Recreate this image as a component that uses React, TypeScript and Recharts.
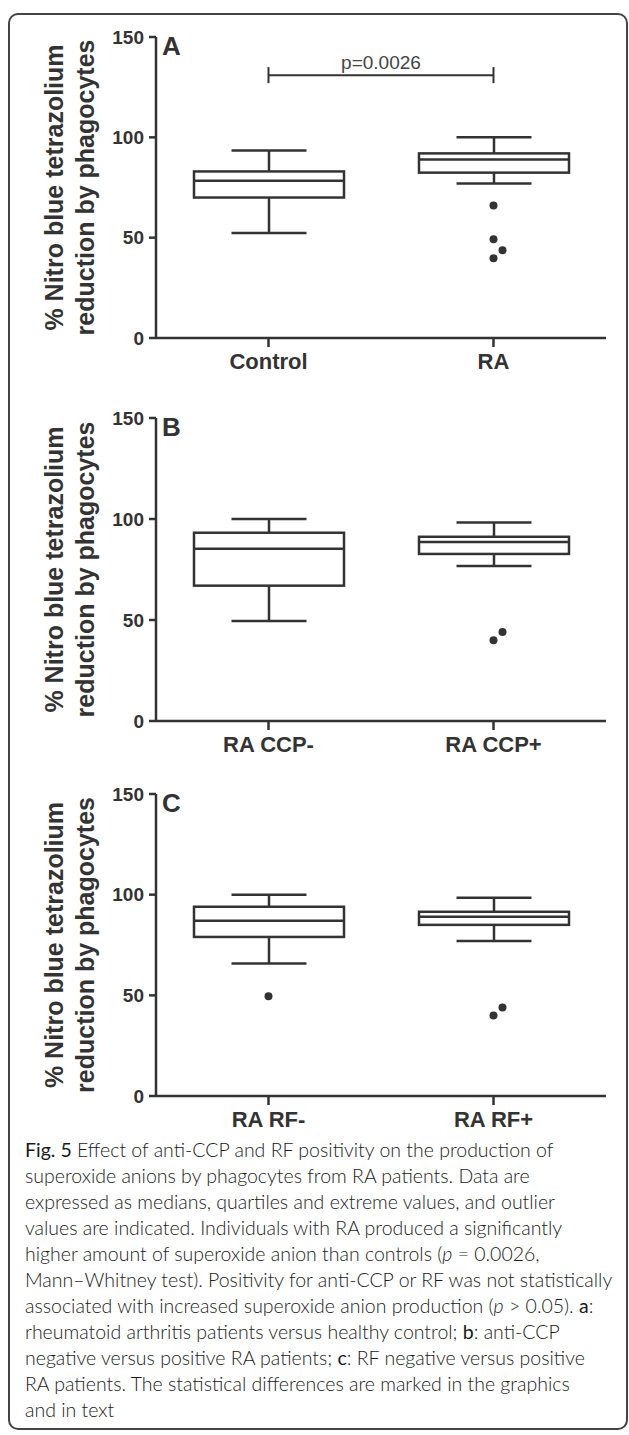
import React from "react";
import { Bar, ComposedChart, Label, ReferenceLine, Scatter, XAxis, YAxis } from "recharts";

// values (% NBT reduction)
const Y_TICKS = [0, 50, 100, 150];

const A_GROUPS = ["Control", "RA"];
const A_LOW = [52.3, 77];
const A_Q1 = [70, 82.4];
const A_MED = [78.4, 89];
const A_Q3 = [83, 92];
const A_HIGH = [93.5, 100];
const A_OUTLIERS = [[], [66, 49.2, 43.7, 39.7]];

const B_GROUPS = ["RA CCP-", "RA CCP+"];
const B_LOW = [49.5, 76.7];
const B_Q1 = [67, 82.7];
const B_MED = [85.3, 88.6];
const B_Q3 = [93.2, 91.2];
const B_HIGH = [100, 98.3];
const B_OUTLIERS = [[], [40, 44]];

const C_GROUPS = ["RA RF-", "RA RF+"];
const C_LOW = [65.8, 77];
const C_Q1 = [79, 85];
const C_MED = [87, 89];
const C_Q3 = [94, 91.5];
const C_HIGH = [100, 98.5];
const C_OUTLIERS = [[49.6], [40, 44]];

const P_VALUE = "p=0.0026";
const P_LEVEL = 131;

const INK = "#333";
const FONT = "'Liberation Sans', Arial, Helvetica, sans-serif";

// Prism-style: lowest outlier sits on the centre line, a close neighbour gets pushed sideways
function dodge(values: number[]) {
  const sorted = [...values].sort((a, b) => a - b);
  const placed: number[] = [];
  return sorted.map((v) => {
    const hit = placed.some((p) => Math.abs(p - v) < 6);
    if (!hit) placed.push(v);
    return { value: v, dodge: hit };
  });
}

function BoxShape(props: any) {
  const { x, y, width, height, payload } = props;
  const { lo, hi, q1, med, q3 } = payload;
  const pxLo = y + height;
  const px = (v: number) => pxLo + ((y - pxLo) * (v - lo)) / (hi - lo);
  const cx = x + width / 2;
  const cap = width / 4;
  const sw = 2.5;
  return (
    <g stroke={INK} strokeWidth={sw} fill="none">
      <line x1={cx} x2={cx} y1={px(hi)} y2={px(q3)} />
      <line x1={cx} x2={cx} y1={px(q1)} y2={px(lo)} />
      <line x1={cx - cap} x2={cx + cap} y1={px(hi)} y2={px(hi)} />
      <line x1={cx - cap} x2={cx + cap} y1={px(lo)} y2={px(lo)} />
      <rect x={x} y={px(q3)} width={width} height={px(q1) - px(q3)} fill="#fff" />
      <line x1={x} x2={x + width} y1={px(med)} y2={px(med)} />
    </g>
  );
}

function OutlierDot(props: any) {
  const { cx, cy, payload } = props;
  if (cx == null || cy == null) return null;
  return <circle cx={cx + (payload.dodge ? 9 : 0)} cy={cy} r={4} fill={INK} />;
}

function YLabel(props: any) {
  const vb = props.viewBox || {};
  const cy = vb.y + vb.height / 2;
  const common = {
    textAnchor: "middle" as const,
    fill: INK,
    fontFamily: FONT,
    fontWeight: 700,
    fontSize: 25,
  };
  return (
    <g>
      <text x={63} y={cy} transform={`rotate(-90, 63, ${cy})`} {...common}>
        % Nitro blue tetrazolium
      </text>
      <text x={94} y={cy} transform={`rotate(-90, 94, ${cy})`} {...common}>
        reduction by phagocytes
      </text>
    </g>
  );
}

type PanelProps = {
  letter: string;
  groups: string[];
  low: number[];
  q1: number[];
  med: number[];
  q3: number[];
  high: number[];
  outliers: number[][];
  top: number;
  plotHeight: number;
  pValue?: string;
};

function Panel({ letter, groups, low, q1, med, q3, high, outliers, top, plotHeight, pValue }: PanelProps) {
  const rows = groups.map((g, i) => ({
    name: g,
    range: [low[i], high[i]],
    lo: low[i],
    q1: q1[i],
    med: med[i],
    q3: q3[i],
    hi: high[i],
  }));
  const pts = groups.flatMap((g, i) =>
    dodge(outliers[i]).map((o) => ({ name: g, value: o.value, dodge: o.dodge }))
  );
  const marginTop = 37;
  const axisH = 46;
  return (
    <div style={{ position: "absolute", left: 0, top }}>
      <ComposedChart
        width={629}
        height={marginTop + plotHeight + axisH}
        data={rows}
        margin={{ top: marginTop, right: 23, bottom: 0, left: 0 }}
      >
        <XAxis
          dataKey="name"
          allowDuplicatedCategory={false}
          height={axisH}
          axisLine={{ stroke: INK, strokeWidth: 2.5 }}
          tickLine={{ stroke: INK, strokeWidth: 2.5 }}
          tickSize={9}
          tickMargin={6}
          tick={{ fill: INK, fontSize: 22, fontWeight: 700, fontFamily: FONT }}
        />
        <YAxis
          type="number"
          domain={[0, 150]}
          ticks={Y_TICKS}
          width={156}
          axisLine={{ stroke: INK, strokeWidth: 2.5 }}
          tickLine={{ stroke: INK, strokeWidth: 2.5 }}
          tickSize={7}
          tickMargin={5}
          tick={{ fill: INK, fontSize: 19, fontWeight: 700, fontFamily: FONT }}
        >
          <Label content={<YLabel />} />
        </YAxis>
        <Bar dataKey="range" barSize={150} shape={<BoxShape />} isAnimationActive={false} />
        <Scatter data={pts} dataKey="value" shape={<OutlierDot />} isAnimationActive={false} />
        {pValue && (
          <ReferenceLine
            segment={[
              { x: groups[0], y: P_LEVEL },
              { x: groups[1], y: P_LEVEL },
            ]}
            stroke={INK}
            strokeWidth={2}
            ifOverflow="visible"
          >
            <Label
              value={pValue}
              position="top"
              offset={6}
              fill="#444"
              fontSize={19}
              fontFamily={FONT}
            />
          </ReferenceLine>
        )}
        {pValue &&
          groups.map((g) => (
            <ReferenceLine
              key={g}
              segment={[
                { x: g, y: P_LEVEL - 4 },
                { x: g, y: P_LEVEL + 4 },
              ]}
              stroke={INK}
              strokeWidth={2}
              ifOverflow="visible"
            />
          ))}
      </ComposedChart>
      <div
        style={{
          position: "absolute",
          left: 162,
          top: 33,
          fontFamily: FONT,
          fontWeight: 700,
          fontSize: 26,
          lineHeight: "26px",
          color: INK,
        }}
      >
        {letter}
      </div>
    </div>
  );
}

const CAPTION_LINES: React.ReactNode[] = [
  <>
    <b>Fig. 5</b> Effect of anti-CCP and RF positivity on the production of
  </>,
  "superoxide anions by phagocytes from RA patients. Data are",
  "expressed as medians, quartiles and extreme values, and outlier",
  "values are indicated. Individuals with RA produced a significantly",
  <>
    higher amount of superoxide anion than controls (<i>p</i> = 0.0026,
  </>,
  "Mann–Whitney test). Positivity for anti-CCP or RF was not statistically",
  <>
    associated with increased superoxide anion production (<i>p</i> &gt; 0.05). <b>a</b>:
  </>,
  <>
    rheumatoid arthritis patients versus healthy control; <b>b</b>: anti-CCP
  </>,
  <>
    negative versus positive RA patients; <b>c</b>: RF negative versus positive
  </>,
  "RA patients. The statistical differences are marked in the graphics",
  "and in text",
];

export default function App() {
  return (
    <div style={{ position: "relative", width: 629, height: 1435, background: "#fff", overflow: "hidden" }}>
      <style>{`body{margin:0}`}</style>
      <div
        style={{
          position: "absolute",
          left: 8,
          top: 13,
          width: 620,
          height: 1417,
          boxSizing: "border-box",
          border: "2px solid #444",
          borderRadius: 10,
        }}
      />
      <Panel
        letter="A"
        groups={A_GROUPS}
        low={A_LOW}
        q1={A_Q1}
        med={A_MED}
        q3={A_Q3}
        high={A_HIGH}
        outliers={A_OUTLIERS}
        top={0}
        plotHeight={301}
        pValue={P_VALUE}
      />
      <Panel
        letter="B"
        groups={B_GROUPS}
        low={B_LOW}
        q1={B_Q1}
        med={B_MED}
        q3={B_Q3}
        high={B_HIGH}
        outliers={B_OUTLIERS}
        top={381}
        plotHeight={303}
      />
      <Panel
        letter="C"
        groups={C_GROUPS}
        low={C_LOW}
        q1={C_Q1}
        med={C_MED}
        q3={C_Q3}
        high={C_HIGH}
        outliers={C_OUTLIERS}
        top={757}
        plotHeight={302}
      />
      <div
        style={{
          position: "absolute",
          left: 25,
          top: 1137,
          fontFamily: "Lato, 'Open Sans', sans-serif",
          fontWeight: 300,
          fontSize: 19.5,
          lineHeight: "26px",
          color: "#1a1a1a",
          whiteSpace: "nowrap",
        }}
      >
        {CAPTION_LINES.map((l, i) => (
          <div key={i}>{l}</div>
        ))}
      </div>
    </div>
  );
}
